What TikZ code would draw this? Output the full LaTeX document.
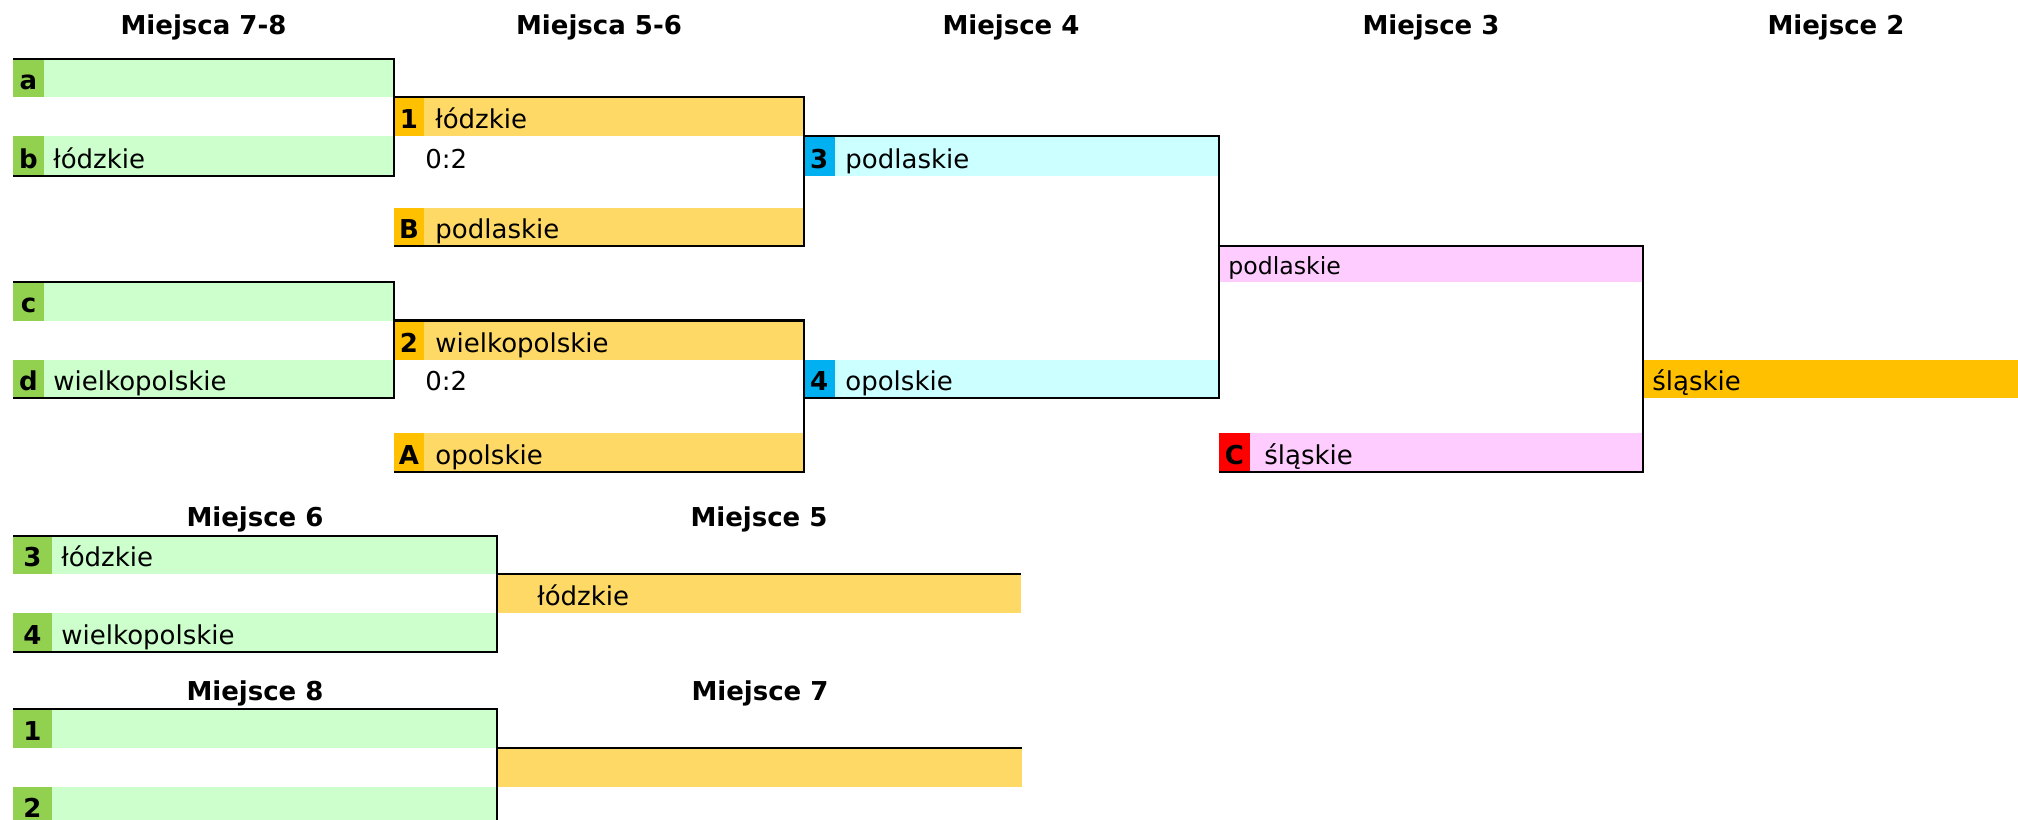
\documentclass[tikz,border=0pt]{standalone}
\usepackage{fontspec}
\setmainfont{DejaVu Sans}
\definecolor{lgreen}{HTML}{CCFFCC}
\definecolor{dgreen}{HTML}{92D050}
\definecolor{lorange}{HTML}{FFD966}
\definecolor{dorange}{HTML}{FFC000}
\definecolor{lcyan}{HTML}{CCFFFF}
\definecolor{dcyan}{HTML}{00B0F0}
\definecolor{lpink}{HTML}{FFCCFF}
\definecolor{dred}{HTML}{FF0000}
\tikzset{
  txt/.style={anchor=base west,inner sep=0pt,font=\fontsize{13}{15}\selectfont},
  smalltxt/.style={anchor=base west,inner sep=0pt,font=\fontsize{11.8}{14}\selectfont},
  lbl/.style={anchor=base,inner sep=0pt,font=\fontsize{13}{15}\selectfont\bfseries},
  hdr/.style={anchor=base,inner sep=0pt,font=\fontsize{13}{15}\selectfont\bfseries},
  bline/.style={draw=black,line width=1.1pt},
}
\begin{document}
\begin{tikzpicture}[x=0.5pt,y=-0.5pt]
\useasboundingbox (0,0) rectangle (2018,819);
% ---------- fills, top section ----------
\fill[lgreen] (13,59) rectangle (394,97);  \fill[dgreen] (13,59) rectangle (44,97);
\fill[lgreen] (13,136) rectangle (394,176); \fill[dgreen] (13,136) rectangle (44,176);
\fill[lgreen] (13,282) rectangle (394,320.5); \fill[dgreen] (13,282) rectangle (44,320.5);
\fill[lgreen] (13,360) rectangle (394,398); \fill[dgreen] (13,360) rectangle (44,398);
\fill[lorange] (394,97) rectangle (804,136); \fill[dorange] (394,97) rectangle (424,136);
\fill[lorange] (394,208) rectangle (804,246); \fill[dorange] (394,208) rectangle (424,246);
\fill[lorange] (394,320.5) rectangle (804,360); \fill[dorange] (394,320.5) rectangle (424,360);
\fill[lorange] (394,433) rectangle (804,472); \fill[dorange] (394,433) rectangle (424,472);
\fill[lcyan] (804,136) rectangle (1219,176); \fill[dcyan] (804,136) rectangle (834.5,176);
\fill[lcyan] (804,360) rectangle (1219,398); \fill[dcyan] (804,360) rectangle (834.5,398);
\fill[lpink] (1219,246) rectangle (1643,282);
\fill[lpink] (1219,433) rectangle (1643,472); \fill[dred] (1219,433) rectangle (1250,472);
\fill[dorange] (1643,360) rectangle (2018,398);
% ---------- fills, lower section ----------
\fill[lgreen] (13,536) rectangle (497,574); \fill[dgreen] (13,536) rectangle (52,574);
\fill[lgreen] (13,613) rectangle (497,652); \fill[dgreen] (13,613) rectangle (52,652);
\fill[lorange] (497,574) rectangle (1021,613);
\fill[lgreen] (13,709) rectangle (497,748); \fill[dgreen] (13,709) rectangle (52,748);
\fill[lgreen] (13,787) rectangle (497,830); \fill[dgreen] (13,787) rectangle (52,830);
\fill[lorange] (497,748) rectangle (1022,787);
% ---------- bracket lines ----------
\draw[bline] (13,59) -- (394,59) -- (394,176) -- (13,176);
\draw[bline] (394,97) -- (804,97) -- (804,246) -- (394,246);
\draw[bline] (13,282) -- (394,282) -- (394,398) -- (13,398);
\draw[bline] (394,320.5) -- (804,320.5) -- (804,472) -- (394,472);
\draw[bline] (804,136) -- (1219,136) -- (1219,398) -- (804,398);
\draw[bline] (1219,246) -- (1643,246) -- (1643,472) -- (1219,472);
\draw[bline] (13,536) -- (497,536) -- (497,652) -- (13,652);
\draw[bline] (497,574) -- (1021,574);
\draw[bline] (13,709) -- (497,709) -- (497,830);
\draw[bline] (497,748) -- (1022,748);
% ---------- headers ----------
\node[hdr] (h78) at (203.5,34.5) {Miejsca 7-8};
\node[hdr] (h56) at (599,34.5) {Miejsca 5-6};
\node[hdr] (h4) at (1011,34.5) {Miejsce 4};
\node[hdr] (h3) at (1431,34.5) {Miejsce 3};
\node[hdr] (h2) at (1836,34.5) {Miejsce 2};
\node[hdr] (h6) at (255,526.5) {Miejsce 6};
\node[hdr] (h5) at (759,526.5) {Miejsce 5};
\node[hdr] (h8) at (255,700) {Miejsce 8};
\node[hdr] (h7) at (760,700) {Miejsce 7};
% ---------- labels ----------
\node[lbl] (la) at (28.5,89) {a};
\node[lbl] (lb) at (28.5,168) {b};
\node[lbl] (lc) at (28.5,312.5) {c};
\node[lbl] (ld) at (28.5,390) {d};
\node[lbl] (l1) at (409,128) {1};
\node[lbl] (lB) at (409,238) {B};
\node[lbl] (l2) at (409,352) {2};
\node[lbl] (lA) at (409,464) {A};
\node[lbl] (l3) at (819.25,168) {3};
\node[lbl] (l4) at (819.25,390) {4};
\node[lbl] (lC) at (1234.5,464) {C};
\node[lbl] (m3) at (32.5,566) {3};
\node[lbl] (m4) at (32.5,644) {4};
\node[lbl] (m1) at (32.5,740) {1};
\node[lbl] (m2) at (32.5,817) {2};
% ---------- team names ----------
\node[txt] (tb) at (53,168) {łódzkie};
\node[txt] (td) at (53,390) {wielkopolskie};
\node[txt] (t1) at (435,128) {łódzkie};
\node[txt] (s1) at (425,168) {0:2};
\node[txt] (tB) at (435,238) {podlaskie};
\node[txt] (t2) at (435,352) {wielkopolskie};
\node[txt] (s2) at (425,390) {0:2};
\node[txt] (tA) at (435,464) {opolskie};
\node[txt] (t3) at (845,168) {podlaskie};
\node[txt] (t4) at (845,390) {opolskie};
\node[smalltxt] (tp) at (1228,274) {podlaskie};
\node[txt] (tC) at (1264,464) {śląskie};
\node[txt] (tw) at (1652,390) {śląskie};
\node[txt] (u3) at (61,566) {łódzkie};
\node[txt] (u4) at (61,644) {wielkopolskie};
\node[txt] (u5) at (537,605) {łódzkie};
\end{tikzpicture}
\end{document}
